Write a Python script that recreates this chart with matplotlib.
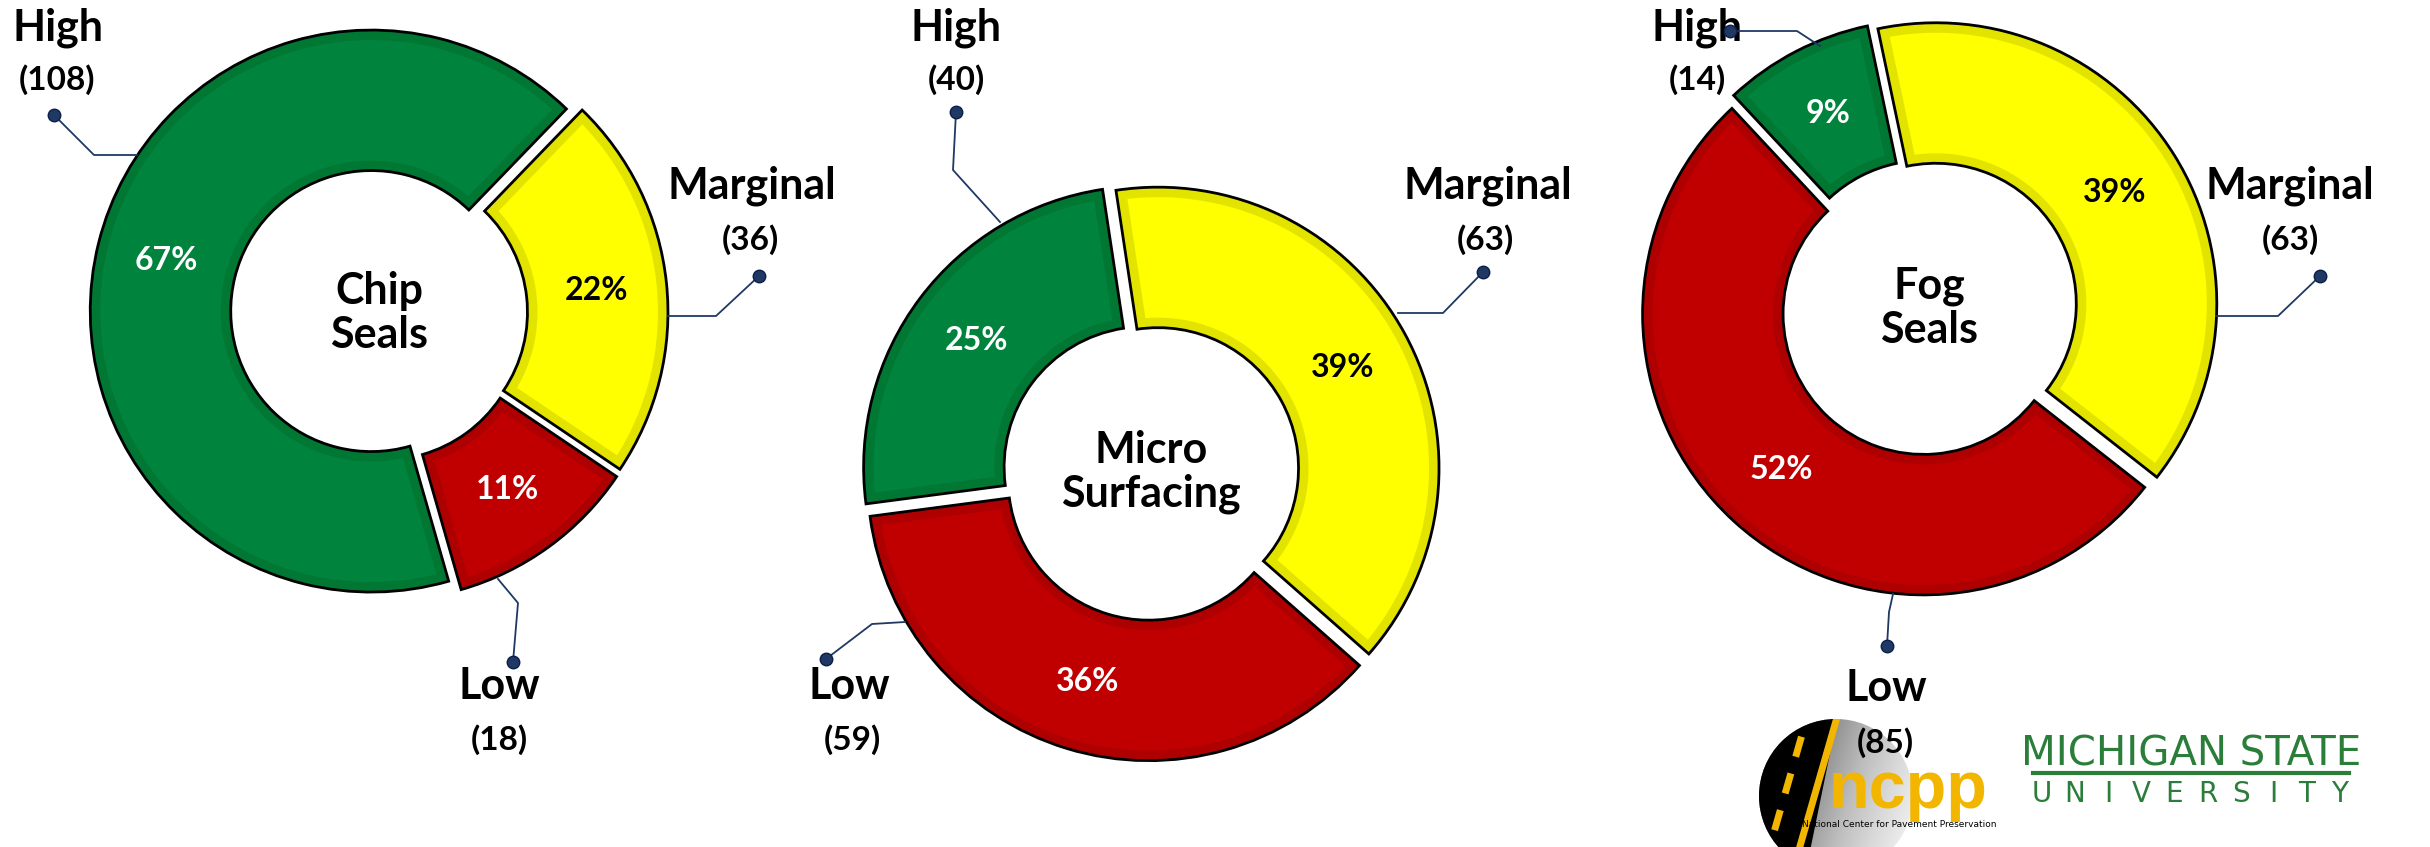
import numpy as np
import matplotlib.pyplot as plt
from matplotlib.patches import Circle, Polygon

plt.rcParams['font.family'] = ['Lato', 'DejaVu Sans']

categories = ['High', 'Marginal', 'Low']
chip_seals = [108, 36, 18]
micro_surfacing = [40, 63, 59]
fog_seals = [14, 63, 85]
chart_names = ['Chip\nSeals', 'Micro\nSurfacing', 'Fog\nSeals']

face = ['#00843D', '#FFFF00', '#C00000']
rim = ['#007834', '#E3E300', '#AE0000']
pct_col = ['white', 'black', 'white']
navy = '#1F3864'

W, H = 2430, 847
fig = plt.figure(figsize=(W / 100, H / 100), dpi=100)
ax = fig.add_axes([0, 0, 1, 1])

R = 281      # outer radius (px)
HOLE = 0.5
GAP = 8      # explode offset (px)
BAND = 10    # darker rim inside each slice (px)

# donut centre (x, y from top) and start angle of the first slice
layout = [((379, 313), 286), ((1151, 472), 187.5), ((1929, 308), 133)]

# callouts: name pos, count pos, dot, elbow, edge  (px, y from top)
callouts = [
    [((58, 28), (57, 80), (54, 115), (94, 155), (137, 155)),
     ((752, 186), (750, 240), (759, 276), (716, 316), (668, 316)),
     ((499, 686), (499, 740), (513, 662), (518, 603), (498, 579))],
    [((956, 28), (956, 80), (956, 112), (953, 170), (1000, 222)),
     ((1488, 186), (1485, 240), (1483, 272), (1443, 313), (1398, 313)),
     ((849, 686), (852, 740), (826, 659), (872, 624), (905, 622))],
    [((1697, 28), (1697, 80), (1730, 31), (1797, 31), (1820, 46)),
     ((2290, 186), (2290, 240), (2320, 276), (2278, 316), (2216, 316)),
     ((1886, 688), (1885, 743), (1887, 646), (1889, 612), (1893, 594))],
]


def P(x, y):
    return (x, H - y)


def inset(w, b, n=120):
    # annular sector shrunk by b px on every side
    cx, cy = w.center
    ro, ri = w.r - b, w.r - w.width + b
    t1, t2 = np.radians(w.theta1), np.radians(w.theta2)
    ao = np.linspace(t1 + np.arcsin(b / ro), t2 - np.arcsin(b / ro), n)
    ai = np.linspace(t2 - np.arcsin(b / ri), t1 + np.arcsin(b / ri), n)
    pts = np.concatenate([np.c_[cx + ro * np.cos(ao), cy + ro * np.sin(ao)],
                          np.c_[cx + ri * np.cos(ai), cy + ri * np.sin(ai)]])
    return pts


for vals, name, ((cx, cy), start), calls in zip(
        [chip_seals, micro_surfacing, fog_seals], chart_names, layout, callouts):
    wedges, _, pcts = ax.pie(
        vals, colors=rim, radius=R, center=P(cx, cy), startangle=start,
        counterclock=False, explode=[GAP] * 3, autopct='%.0f%%',
        pctdistance=0.75, textprops=dict(fontsize=23, fontweight='bold'),
        wedgeprops=dict(width=R * (1 - HOLE), edgecolor='black', linewidth=2))
    for w, fc in zip(wedges, face):
        ax.add_patch(Polygon(inset(w, BAND), fc=fc, ec='none', zorder=2))
    for t, c in zip(pcts, pct_col):
        t.set_color(c)
        t.set_zorder(5)
    ax.text(*P(cx, cy), name, ha='center', va='center', fontsize=31,
            fontweight='bold', linespacing=1.1, zorder=5)

    for cat, v, (nm, cnt, dot, elb, edge) in zip(categories, vals, calls):
        xs, ys = zip(P(*edge), P(*elb), P(*dot))
        ax.plot(xs, ys, color=navy, lw=1.3, zorder=4)
        ax.plot(*P(*dot), 'o', ms=9, mfc=navy, mec='#0B1F4A', zorder=4)
        ax.text(*P(*nm), cat, ha='center', va='center', fontsize=31,
                fontweight='bold')
        ax.text(*P(*cnt), f'({v})', ha='center', va='center', fontsize=24,
                fontweight='bold')

# ncpp logo (approximation)
lc, lr = (1836, 796), 77
disc = Circle(P(*lc), lr, fc='none', ec='none')
ax.add_patch(disc)
g = np.linspace(0, 1, 256)
grad = np.add.outer(g * 0.25, g * 0.75)
im = ax.imshow(grad, cmap='Greys_r', vmin=-0.3, vmax=1.1,
               extent=(lc[0] - lr, lc[0] + lr, H - lc[1] - lr, H - lc[1] + lr),
               origin='upper', zorder=2)
im.set_clip_path(disc)
road = Polygon([P(1700, 900), P(1790, 680), P(1845, 680), P(1800, 900)],
               fc='black', ec='none', zorder=3)
ax.add_patch(road)
road.set_clip_path(disc)
l1, = ax.plot(*zip(P(1842, 700), P(1796, 860)), color='#F2B600', lw=5, zorder=3)
l1.set_clip_path(disc)
l2, = ax.plot(*zip(P(1812, 700), P(1766, 860)), color='#F2B600', lw=5,
              ls=(0, (3, 2.5)), zorder=3)
l2.set_clip_path(disc)
ax.text(*P(1908, 808), 'ncpp', ha='center', va='baseline', fontsize=48,
        fontweight='bold', color='#F2B600', family='Liberation Sans', zorder=4)
ax.text(*P(1899, 824), 'National Center for Pavement Preservation', ha='center',
        va='center', fontsize=6.5, family='Liberation Sans Narrow', zorder=4)

# MSU wordmark
msu = '#2B7D3A'
ax.text(*P(2191, 765), 'MICHIGAN STATE', ha='center', va='baseline',
        fontsize=29, color=msu, family='Liberation Sans Narrow')
ax.plot(*zip(P(2033, 773), P(2349, 773)), color=msu, lw=3)
for x, ch in zip(np.linspace(2042, 2340, 10), 'UNIVERSITY'):
    ax.text(*P(x, 802), ch, ha='center', va='baseline', fontsize=20,
            color=msu, family='Liberation Sans Narrow')

ax.set_xlim(0, W)
ax.set_ylim(0, H)
ax.set_aspect('auto')
ax.axis('off')
fig.savefig('out.png', dpi=100, facecolor='white')
